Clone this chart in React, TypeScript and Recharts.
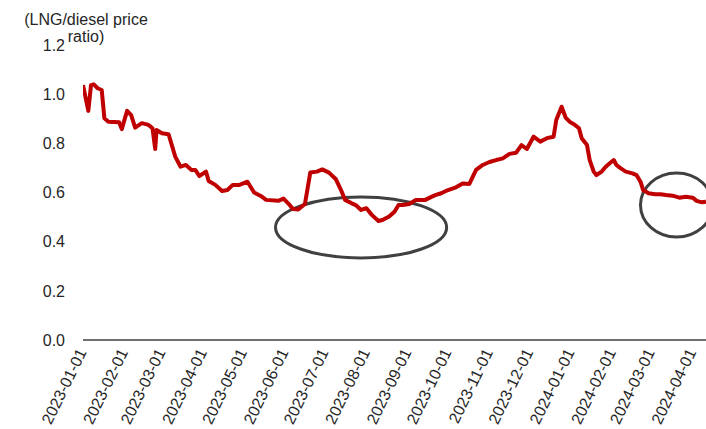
import React from "react";
import {
	LineChart,
	Line,
	XAxis,
	YAxis,
	ReferenceArea,
} from "recharts";

// LNG / diesel price ratio
const dates = [
	"2023-01-01", "2023-01-05", "2023-01-07", "2023-01-09", "2023-01-12", "2023-01-15",
	"2023-01-17", "2023-01-20", "2023-01-28", "2023-01-30", "2023-02-03", "2023-02-06",
	"2023-02-09", "2023-02-12", "2023-02-14", "2023-02-19", "2023-02-22", "2023-02-24",
	"2023-02-25", "2023-03-01", "2023-03-06", "2023-03-11", "2023-03-15", "2023-03-19",
	"2023-03-23", "2023-03-26", "2023-03-29", "2023-04-03", "2023-04-05", "2023-04-10",
	"2023-04-15", "2023-04-19", "2023-04-23", "2023-04-28", "2023-05-04", "2023-05-09",
	"2023-05-14", "2023-05-18", "2023-05-27", "2023-05-31", "2023-06-04", "2023-06-07",
	"2023-06-11", "2023-06-16", "2023-06-20", "2023-06-25", "2023-06-29", "2023-07-04",
	"2023-07-09", "2023-07-13", "2023-07-16", "2023-07-21", "2023-07-24", "2023-07-28",
	"2023-08-01", "2023-08-05", "2023-08-10", "2023-08-13", "2023-08-18", "2023-08-22",
	"2023-08-25", "2023-08-28", "2023-09-02", "2023-09-07", "2023-09-14", "2023-09-19",
	"2023-09-22", "2023-09-26", "2023-10-01", "2023-10-07", "2023-10-12", "2023-10-17",
	"2023-10-22", "2023-10-27", "2023-11-01", "2023-11-06", "2023-11-11", "2023-11-16",
	"2023-11-21", "2023-11-25", "2023-11-29", "2023-12-04", "2023-12-09", "2023-12-14",
	"2023-12-19", "2023-12-21", "2023-12-25", "2023-12-28", "2023-12-31", "2024-01-04",
	"2024-01-07", "2024-01-09", "2024-01-13", "2024-01-15", "2024-01-18", "2024-01-20",
	"2024-01-24", "2024-01-27", "2024-01-30", "2024-02-02", "2024-02-04", "2024-02-07",
	"2024-02-11", "2024-02-16", "2024-02-19", "2024-02-22", "2024-02-24", "2024-02-28",
	"2024-03-04", "2024-03-08", "2024-03-12", "2024-03-17", "2024-03-22", "2024-03-27",
	"2024-04-01", "2024-04-04", "2024-04-08", "2024-04-11",
];

const ratio = [
	1.037, 0.932, 1.037, 1.04, 1.024, 1.017,
	0.902, 0.888, 0.886, 0.858, 0.932, 0.915,
	0.864, 0.875, 0.882, 0.875, 0.861, 0.777,
	0.854, 0.841, 0.837, 0.746, 0.705, 0.712,
	0.692, 0.692, 0.667, 0.685, 0.647, 0.631,
	0.606, 0.61, 0.631, 0.631, 0.644, 0.6,
	0.586, 0.57, 0.566, 0.575, 0.553, 0.533,
	0.531, 0.553, 0.681, 0.685, 0.694, 0.681,
	0.655, 0.61, 0.57, 0.556, 0.549, 0.529,
	0.536, 0.509, 0.484, 0.488, 0.502, 0.522,
	0.549, 0.549, 0.553, 0.57, 0.57, 0.583,
	0.59, 0.597, 0.61, 0.621, 0.637, 0.635,
	0.692, 0.712, 0.724, 0.732, 0.739, 0.757,
	0.762, 0.793, 0.777, 0.827, 0.807, 0.821,
	0.827, 0.895, 0.949, 0.905, 0.888, 0.875,
	0.861, 0.821, 0.793, 0.732, 0.685, 0.671,
	0.685, 0.705, 0.719, 0.732, 0.712, 0.699,
	0.685, 0.678, 0.671, 0.644, 0.61, 0.597,
	0.593, 0.593, 0.59, 0.587, 0.579, 0.583,
	0.579, 0.566, 0.56, 0.563,
];

const monthTicks = [
	"2023-01-01", "2023-02-01", "2023-03-01", "2023-04-01", "2023-05-01",
	"2023-06-01", "2023-07-01", "2023-08-01", "2023-09-01", "2023-10-01",
	"2023-11-01", "2023-12-01", "2024-01-01", "2024-02-01", "2024-03-01",
	"2024-04-01",
];

const yTicks = [0, 0.2, 0.4, 0.6, 0.8, 1.0, 1.2];

// circled areas: [from, to, low, high]
const highlights: [string, string, number, number][] = [
	["2023-05-25", "2023-09-30", 0.334, 0.582],
	["2024-02-22", "2024-04-16", 0.419, 0.679],
];

const ts = (s: string) => Date.parse(s);
const fmtDate = (v: number) => new Date(v).toISOString().slice(0, 10);

const data = dates.map((d, i) => ({ t: ts(d), ratio: ratio[i] }));

const FONT = "'Liberation Sans', Arial, sans-serif";

const DateTick = (props: any) => {
	const { x, y, payload } = props;
	return (
		<text
			transform={`translate(${x + 4},${y + 12}) rotate(-64)`}
			textAnchor="end"
			fontSize={16}
			fontFamily={FONT}
			fill="#262626"
		>
			{fmtDate(payload.value)}
		</text>
	);
};

const Ellipse = (props: any) => {
	const { x, y, width, height } = props;
	return (
		<ellipse
			cx={x + width / 2}
			cy={y + height / 2}
			rx={width / 2}
			ry={height / 2}
			fill="none"
			stroke="#404040"
			strokeWidth={3}
		/>
	);
};

export default function App() {
	return (
		<div
			style={{
				position: "absolute",
				left: 0,
				top: 0,
				width: 706,
				height: 429,
				background: "#fff",
				fontFamily: FONT,
			}}
		>
			<div
				style={{
					position: "absolute",
					left: -14,
					top: 11,
					width: 200,
					textAlign: "center",
					fontSize: 16,
					lineHeight: "17px",
					color: "#262626",
					zIndex: 2,
				}}
			>
				(LNG/diesel price
				<br />
				ratio)
			</div>
			<LineChart
				width={706}
				height={429}
				data={data}
				margin={{ top: 45, right: 0, bottom: 0, left: 0 }}
			>
				<XAxis
					dataKey="t"
					type="number"
					scale="time"
					domain={[ts("2023-01-01"), ts("2024-04-11")]}
					ticks={monthTicks.map(ts)}
					interval={0}
					height={89}
					tickLine={false}
					tickSize={0}
					tickMargin={0}
					axisLine={{ stroke: "#404040", strokeWidth: 1.5 }}
					tick={<DateTick />}
					allowDataOverflow
				/>
				<YAxis
					type="number"
					domain={[0, 1.2]}
					ticks={yTicks}
					width={83}
					axisLine={false}
					tickLine={false}
					tickSize={0}
					tickMargin={18}
					tick={{ fill: "#262626", fontSize: 16, fontFamily: FONT }}
					tickFormatter={(v: number) => v.toFixed(1)}
				/>
				<Line
					dataKey="ratio"
					type="linear"
					stroke="#C00000"
					strokeWidth={4}
					strokeLinejoin="round"
					dot={false}
					isAnimationActive={false}
				/>
				{highlights.map(([a, b, lo, hi]) => (
					<ReferenceArea
						key={a}
						x1={ts(a)}
						x2={ts(b)}
						y1={lo}
						y2={hi}
						ifOverflow="visible"
						shape={<Ellipse />}
					/>
				))}
			</LineChart>
		</div>
	);
}
